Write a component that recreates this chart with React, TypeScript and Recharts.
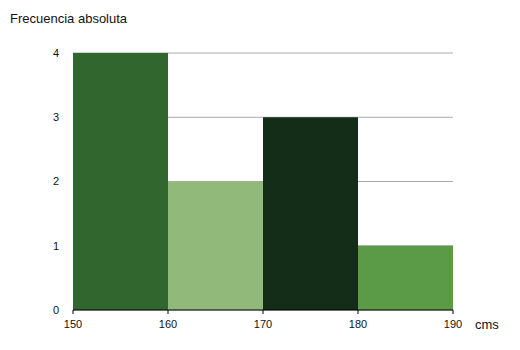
import { Bar, BarChart, CartesianGrid, Cell, XAxis, YAxis } from "recharts";

const binCenters = [155, 165, 175, 185];
const frequencies = [4, 2, 3, 1];
const xTicks = [150, 160, 170, 180, 190];
const yTicks = [0, 1, 2, 3, 4];

const COLORS = ["#31662f", "#90b97a", "#132d18", "#5b9a47"];

const data = binCenters.map((c, i) => ({ center: c, value: frequencies[i] }));

const font = "'Liberation Sans', Arial, Helvetica, sans-serif";

export default function App() {
    return (
        <div style={{ position: "absolute", left: 0, top: 0, width: 520, height: 350, background: "#fff", fontFamily: font }}>
            <div style={{ position: "absolute", left: 10, top: 11, fontSize: 13, color: "#111" }}>Frecuencia absoluta</div>
            <div style={{ position: "absolute", left: 475, top: 317, fontSize: 13, color: "#111" }}>cms</div>
            <BarChart
                width={520}
                height={350}
                data={data}
                margin={{ top: 53, right: 67, bottom: 0, left: 0 }}
                barCategoryGap={0}
                style={{ fontFamily: font }}
            >
                <CartesianGrid horizontal vertical={false} stroke="#aaaaaa" strokeWidth={1} />
                <XAxis
                    dataKey="center"
                    type="number"
                    domain={[150, 190]}
                    ticks={xTicks}
                    height={40}
                    tickSize={4}
                    tickMargin={6}
                    stroke="#000"
                    tick={{ fill: "#111", fontSize: 11 }}
                    allowDataOverflow
                />
                <YAxis
                    type="number"
                    domain={[0, 4]}
                    ticks={yTicks}
                    width={73}
                    axisLine={false}
                    tickLine={false}
                    tickSize={0}
                    tickMargin={14}
                    tick={{ fill: "#111", fontSize: 11 }}
                />
                <Bar dataKey="value" isAnimationActive={false}>
                    {data.map((entry, index) => (
                        <Cell key={`cell-${index}`} fill={COLORS[index % COLORS.length]} />
                    ))}
                </Bar>
            </BarChart>
        </div>
    );
}
